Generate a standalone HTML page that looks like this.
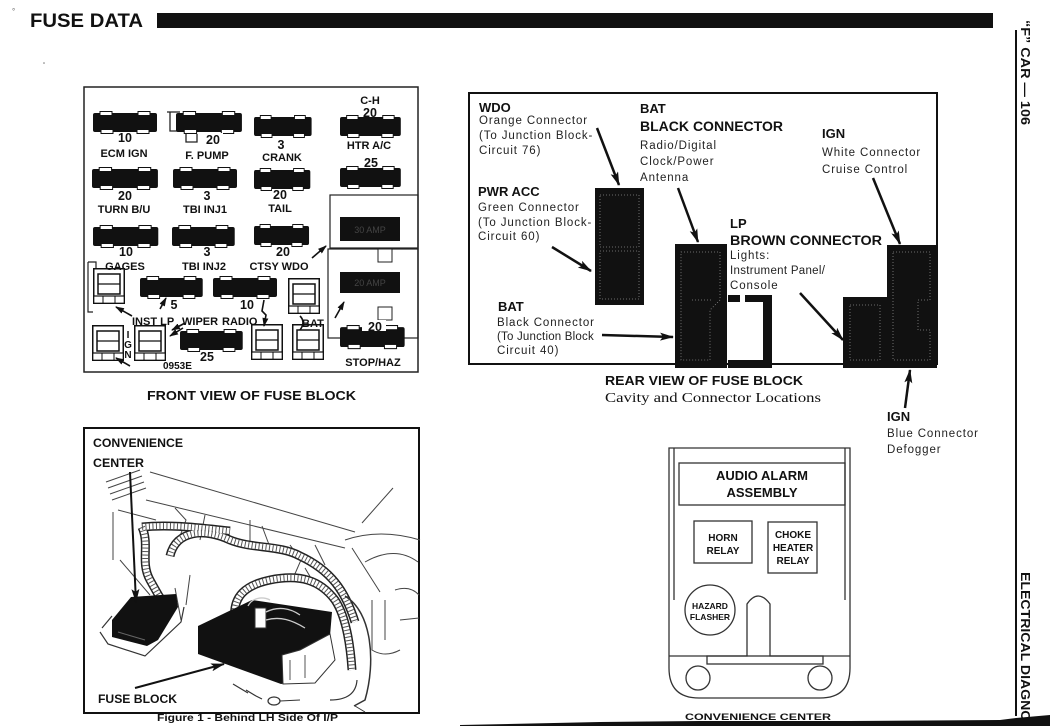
<!DOCTYPE html>
<html><head><meta charset="utf-8"><style>
html,body{margin:0;padding:0;background:#fff}
svg{display:block}
text{font-family:"Liberation Sans",Arial,sans-serif;fill:#111}
.b{font-weight:bold}
.r{font-size:11.5px;letter-spacing:0.9px;fill:#222}
.fl{font-size:11px;font-weight:bold;text-anchor:middle}
.fn{font-size:12.5px;font-weight:bold;text-anchor:middle}
</style></head><body>
<svg width="1050" height="726" viewBox="0 0 1050 726" xmlns="http://www.w3.org/2000/svg">
<defs>
<g id="fz">
<rect x="0" y="2" width="64" height="19" rx="2" fill="#111"/>
<rect x="7" y="0.5" width="12" height="4" fill="#fff" stroke="#111" stroke-width="1"/>
<rect x="45" y="0.5" width="12" height="4" fill="#fff" stroke="#111" stroke-width="1"/>
<rect x="8" y="18.5" width="12" height="4" fill="#fff" stroke="#111" stroke-width="1"/>
<rect x="44" y="18.5" width="12" height="4" fill="#fff" stroke="#111" stroke-width="1"/>
</g>
<g id="cn" fill="#fff" stroke="#111">
<rect x="0.75" y="0.75" width="30.5" height="34.5" stroke-width="1.5"/>
<rect x="5" y="6" width="22" height="20" stroke-width="1.5"/>
<line x1="5" y1="16" x2="27" y2="16" stroke-width="1.2"/>
<rect x="0.75" y="28" width="30.5" height="7.25" stroke-width="1.2"/>
<line x1="10" y1="28" x2="10" y2="35" stroke-width="1"/>
<line x1="22" y1="28" x2="22" y2="35" stroke-width="1"/>
</g>
<marker id="ah" viewBox="0 0 14 8" refX="13" refY="4" markerWidth="14" markerHeight="8" markerUnits="userSpaceOnUse" orient="auto">
<path d="M0,0 L14,4 L0,8 L3,4 Z" fill="#111"/>
</marker>
<marker id="as" viewBox="0 0 9 6" refX="8" refY="3" markerWidth="9" markerHeight="6" markerUnits="userSpaceOnUse" orient="auto">
<path d="M0,0 L9,3 L0,6 Z" fill="#111"/>
</marker>
</defs>

<!-- ============ HEADER ============ -->
<text x="12" y="14" style="font-size:8px;fill:#666">°</text>
<text x="30" y="27" class="b" style="font-size:19px" textLength="113" lengthAdjust="spacingAndGlyphs">FUSE DATA</text>
<rect x="157" y="13" width="836" height="15" fill="#111"/>
<circle cx="44" cy="63" r="0.8" fill="#777"/>

<!-- right edge -->
<line x1="1016" y1="30" x2="1016" y2="716" stroke="#111" stroke-width="2"/>
<g transform="translate(1021,20) rotate(90)">
<text x="0" y="0" class="b" style="font-size:13px" textLength="105" lengthAdjust="spacingAndGlyphs">“F” CAR — 106</text>
</g>
<g transform="translate(1021,572) rotate(90)">
<text x="0" y="0" class="b" style="font-size:13px" textLength="172" lengthAdjust="spacingAndGlyphs">ELECTRICAL DIAGNOSIS</text>
</g>

<!-- ============ FRONT VIEW OF FUSE BLOCK ============ -->
<rect x="84" y="87" width="334" height="285" fill="none" stroke="#222" stroke-width="1.5"/>
<rect x="330" y="195" width="88" height="53" fill="none" stroke="#222" stroke-width="1.2"/>
<rect x="328" y="249" width="90" height="89" fill="none" stroke="#222" stroke-width="1.2"/>
<rect x="378" y="249" width="14" height="13" fill="#fff" stroke="#222" stroke-width="1"/>
<rect x="378" y="307" width="14" height="13" fill="#fff" stroke="#222" stroke-width="1"/>
<rect x="340" y="217" width="60" height="24" fill="#111"/>
<text x="370" y="233" style="font-size:9px;fill:#444;text-anchor:middle">30 AMP</text>
<rect x="340" y="272" width="60" height="21" fill="#111"/>
<text x="370" y="286" style="font-size:9px;fill:#444;text-anchor:middle">20 AMP</text>

<path d="M167,112 H180 M170,112 V131 H186 V142 H197 V134" fill="none" stroke="#222" stroke-width="1.3"/>

<use href="#fz" transform="translate(93,111)"/>
<use href="#fz" transform="translate(176,111) scale(1.03,1)"/>
<use href="#fz" transform="translate(254,115) scale(0.9,1)"/>
<use href="#fz" transform="translate(340,115) scale(0.95,1)"/>
<use href="#fz" transform="translate(92,167) scale(1.03,1)"/>
<use href="#fz" transform="translate(173,167)"/>
<use href="#fz" transform="translate(254,168) scale(0.88,1)"/>
<use href="#fz" transform="translate(340,166) scale(0.95,1)"/>
<use href="#fz" transform="translate(93,225) scale(1.02,1)"/>
<use href="#fz" transform="translate(172,225) scale(0.98,1)"/>
<use href="#fz" transform="translate(254,224) scale(0.86,1)"/>
<use href="#fz" transform="translate(140,276) scale(0.98,1)"/>
<use href="#fz" transform="translate(213,276)"/>
<use href="#fz" transform="translate(180,329) scale(0.98,1)"/>
<use href="#fz" transform="translate(340,325) scale(1.01,1.05)"/>

<path d="M88,262 H96 V268" fill="none" stroke="#222" stroke-width="1.2"/>
<path d="M88,262 V312 H93" fill="none" stroke="#222" stroke-width="1.2"/>
<use href="#cn" transform="translate(93,268)"/>
<use href="#cn" transform="translate(92,325)"/>
<use href="#cn" transform="translate(134,325)"/>
<use href="#cn" transform="translate(288,278)"/>
<use href="#cn" transform="translate(251,324)"/>
<use href="#cn" transform="translate(292,324)"/>

<text x="125" y="142" class="fn">10</text>
<text x="124" y="157" class="fl">ECM IGN</text>
<rect x="203" y="133" width="20" height="11" fill="#fff"/>
<text x="213" y="144" class="fn">20</text>
<text x="207" y="159" class="fl">F. PUMP</text>
<text x="281" y="149" class="fn">3</text>
<text x="282" y="161" class="fl">CRANK</text>
<text x="370" y="104" class="fl">C-H</text>
<text x="370" y="117" class="fn">20</text>
<text x="369" y="149" class="fl">HTR A/C</text>
<text x="371" y="167" class="fn">25</text>
<text x="125" y="200" class="fn">20</text>
<text x="124" y="213" class="fl">TURN B/U</text>
<text x="207" y="200" class="fn">3</text>
<text x="205" y="213" class="fl">TBI INJ1</text>
<text x="280" y="199" class="fn">20</text>
<text x="280" y="212" class="fl">TAIL</text>
<text x="126" y="256" class="fn">10</text>
<text x="125" y="270" class="fl">GAGES</text>
<text x="207" y="256" class="fn">3</text>
<text x="204" y="270" class="fl">TBI INJ2</text>
<text x="283" y="256" class="fn">20</text>
<text x="279" y="270" class="fl">CTSY WDO</text>
<text x="174" y="309" class="fn">5</text>
<text x="247" y="309" class="fn">10</text>
<text x="132" y="325" class="b" style="font-size:11px">INST LP</text>
<text x="182" y="325" class="b" style="font-size:11px">WIPER</text>
<text x="222" y="325" class="b" style="font-size:11px">RADIO</text>
<text x="302" y="327" class="b" style="font-size:11px">BAT</text>
<text x="128" y="338" class="fl" style="font-size:10px">I</text>
<text x="128" y="348" class="fl" style="font-size:10px">G</text>
<text x="128" y="358" class="fl" style="font-size:10px">N</text>
<text x="207" y="361" class="fn">25</text>
<text x="163" y="369" class="b" style="font-size:10px">0953E</text>
<rect x="362" y="320" width="24" height="11" fill="#fff"/>
<text x="375" y="331" class="fn">20</text>
<text x="373" y="366" class="fl">STOP/HAZ</text>

<g fill="none" stroke="#111" stroke-width="1.6">
<path d="M132,316 L116,307" marker-end="url(#as)"/>
<path d="M160,309 L166,298" marker-end="url(#as)"/>
<path d="M130,366 L116,358" marker-end="url(#as)"/>
<path d="M183,328 L170,336" marker-end="url(#as)"/>
<path d="M185,323 L172,330" marker-end="url(#as)"/>
<path d="M264,300 L262,311 L266,315 L264,326" marker-end="url(#as)"/>
<path d="M312,258 L326,246" marker-end="url(#as)"/>
<path d="M335,318 L344,302" marker-end="url(#as)"/>
<path d="M300,316 Q306,322 300,330"/>
</g>

<text x="147" y="400" class="b" style="font-size:12.5px" textLength="209" lengthAdjust="spacingAndGlyphs">FRONT VIEW OF FUSE BLOCK</text>

<!-- ============ REAR VIEW OF FUSE BLOCK ============ -->
<rect x="469" y="93" width="468" height="271" fill="none" stroke="#111" stroke-width="2"/>
<rect x="595" y="188" width="49" height="117" fill="#111"/>
<rect x="675" y="244" width="52" height="124" fill="#111"/>
<path d="M728,295 H740 V302 H745 V295 H772 V368 H728 V360 H763 V302 H728 Z" fill="#111"/>
<path d="M843,297 H887 V245 H937 V368 H843 Z" fill="#111"/>
<g fill="none" stroke="#888" stroke-width="0.8" stroke-dasharray="1 2">
<rect x="600" y="195" width="39" height="52"/>
<rect x="600" y="251" width="39" height="48"/>
<path d="M681,252 H720 V300 L710,310 V360 H681 Z"/>
<path d="M692,300 H712"/>
<path d="M850,305 H880 V360 H850 Z"/>
<path d="M893,252 H930 V300 H918 V330 H930 V360 H893 Z"/>
</g>

<text x="479" y="112" class="b" style="font-size:13px">WDO</text>
<text x="479" y="124" class="r">Orange Connector</text>
<text x="479" y="139" class="r">(To Junction Block-</text>
<text x="479" y="154" class="r">Circuit 76)</text>
<text x="478" y="196" class="b" style="font-size:13px">PWR ACC</text>
<text x="478" y="211" class="r">Green Connector</text>
<text x="478" y="226" class="r">(To Junction Block-</text>
<text x="478" y="240" class="r">Circuit 60)</text>
<text x="498" y="311" class="b" style="font-size:13px">BAT</text>
<text x="497" y="326" class="r">Black Connector</text>
<text x="497" y="340" class="r" style="letter-spacing:0.2px">(To Junction Block</text>
<text x="497" y="354" class="r">Circuit 40)</text>

<text x="640" y="113" class="b" style="font-size:13px">BAT</text>
<text x="640" y="131" class="b" style="font-size:13.5px" textLength="143" lengthAdjust="spacingAndGlyphs">BLACK CONNECTOR</text>
<text x="640" y="149" class="r">Radio/Digital</text>
<text x="640" y="165" class="r">Clock/Power</text>
<text x="640" y="181" class="r">Antenna</text>

<text x="822" y="138" class="b" style="font-size:13px">IGN</text>
<text x="822" y="156" class="r">White Connector</text>
<text x="822" y="173" class="r">Cruise Control</text>

<text x="730" y="228" class="b" style="font-size:13px">LP</text>
<text x="730" y="245" class="b" style="font-size:13.5px" textLength="152" lengthAdjust="spacingAndGlyphs">BROWN CONNECTOR</text>
<text x="730" y="259" class="r">Lights:</text>
<text x="730" y="274" class="r" style="letter-spacing:0.3px">Instrument Panel/</text>
<text x="730" y="289" class="r">Console</text>

<g fill="none" stroke="#111" stroke-width="2.5">
<path d="M597,128 L619,185" marker-end="url(#ah)"/>
<path d="M552,247 L591,271" marker-end="url(#ah)"/>
<path d="M602,335 L673,337" marker-end="url(#ah)"/>
<path d="M678,188 L698,242" marker-end="url(#ah)"/>
<path d="M800,293 L843,340" marker-end="url(#ah)"/>
<path d="M873,178 L900,244" marker-end="url(#ah)"/>
<path d="M905,408 L910,370" marker-end="url(#ah)"/>
</g>

<text x="605" y="385" class="b" style="font-size:12.5px" textLength="198" lengthAdjust="spacingAndGlyphs">REAR VIEW OF FUSE BLOCK</text>
<text x="605" y="402" style="font-family:'Liberation Serif',serif;font-size:14px" textLength="216" lengthAdjust="spacingAndGlyphs">Cavity and Connector Locations</text>

<text x="887" y="421" class="b" style="font-size:13px">IGN</text>
<text x="887" y="437" class="r">Blue Connector</text>
<text x="887" y="453" class="r">Defogger</text>

<!-- ============ BEHIND LH SIDE OF I/P ============ -->
<rect x="84" y="428" width="335" height="285" fill="none" stroke="#111" stroke-width="2"/>
<g fill="none" stroke="#444" stroke-width="1">
<path d="M106,482 L140,470 M108,488 L142,476 M110,494 L144,482 M112,500 L146,488"/>
<path d="M150,472 L355,532"/>
<path d="M146,500 L345,548"/>
<path d="M118,510 L156,520 M113,512 L113,560"/>
<path d="M362,523 L393,488"/>
<path d="M345,540 Q380,528 420,540"/>
<path d="M352,548 L380,592 M365,562 Q395,545 418,562"/>
<path d="M372,600 L372,650 Q385,658 400,650 M385,600 L385,640"/>
<path d="M175,508 L186,520 L180,536 M205,515 L200,540 M250,520 L250,545 M262,526 L271,550"/>
<path d="M290,545 L301,560 L294,576 M315,545 L325,565"/>
<path d="M120,560 L150,595 M175,588 L181,620 M190,575 L186,605"/>
<path d="M395,590 Q410,585 419,595 M400,620 L419,618"/>
<path d="M320,590 L330,596 M305,568 L315,585"/>
</g>

<g fill="none">
<path id="h1" d="M142,527 C150,545 140,562 150,580 S160,598 165,604"/>
<path id="h2" d="M142,527 C170,524 200,528 230,531"/>
<path id="h3" d="M170,556 C176,530 205,528 230,540 C252,549 280,545 300,556 C330,570 345,590 355,622"/>
<path id="h4" d="M235,620 C232,596 246,585 270,580 C300,574 320,580 335,600 C345,615 350,640 352,670"/>
</g>
<g fill="none" stroke="#222" stroke-width="9"><use href="#h1"/><use href="#h2"/><use href="#h3"/><use href="#h4"/></g>
<g fill="none" stroke="#fff" stroke-width="6"><use href="#h1"/><use href="#h2"/><use href="#h3"/><use href="#h4"/></g>
<g fill="none" stroke="#555" stroke-width="6" stroke-dasharray="1 2.5"><use href="#h1"/><use href="#h2"/><use href="#h3"/><use href="#h4"/></g>
<path d="M345,596 C372,612 376,662 365,700 L354,706" fill="none" stroke="#333" stroke-width="1.5"/>
<path d="M330,700 C345,700 356,695 357,680" fill="none" stroke="#333" stroke-width="1.2"/>

<path d="M102,628 L112,616 M100,632 L108,644 L145,656 L181,622 L184,607" fill="none" stroke="#333" stroke-width="1.2"/>
<polygon points="112,620 131,597 176,594 178,607 158,640 147,646 112,637" fill="#111"/>
<path d="M118,632 L145,640" stroke="#666" stroke-width="1"/>

<polygon points="198,626 252,600 332,612 330,636 300,681 281,684 198,654" fill="#111"/>
<path d="M282,655 L300,650 L330,634 L335,660 L315,683 L283,684 Z" fill="#fff" stroke="#333" stroke-width="1"/>
<path d="M290,660 L290,680 M305,655 L305,678" stroke="#555" stroke-width="1"/>
<rect x="255" y="608" width="11" height="20" fill="#fff" stroke="#333" stroke-width="1"/>
<path d="M248,606 C252,598 262,596 270,600 M266,612 C278,606 290,608 300,615 M266,620 C280,616 292,620 305,628" fill="none" stroke="#ccc" stroke-width="1.3"/>
<path d="M233,684 L248,693 M246,690 L256,696 L262,699" fill="none" stroke="#333" stroke-width="1.2"/>
<ellipse cx="274" cy="701" rx="6" ry="4" fill="none" stroke="#333" stroke-width="1.2"/>
<path d="M280,701 L300,700 M355,706 L365,712" fill="none" stroke="#333" stroke-width="1"/>

<text x="93" y="447" class="b" style="font-size:12px" textLength="90" lengthAdjust="spacingAndGlyphs">CONVENIENCE</text>
<text x="93" y="467" class="b" style="font-size:12px" textLength="51" lengthAdjust="spacingAndGlyphs">CENTER</text>
<text x="98" y="703" class="b" style="font-size:12px" textLength="79" lengthAdjust="spacingAndGlyphs">FUSE BLOCK</text>
<g fill="none" stroke="#111" stroke-width="2">
<path d="M130,472 L136,602" marker-end="url(#ah)"/>
<path d="M135,688 L224,664" marker-end="url(#ah)"/>
</g>
<text x="157" y="721" class="b" style="font-size:10px" textLength="181" lengthAdjust="spacingAndGlyphs">Figure 1 - Behind LH Side Of I/P</text>

<!-- ============ CONVENIENCE CENTER ============ -->
<g fill="none" stroke="#333" stroke-width="1.3">
<path d="M669,448 H850 V668 Q850,698 820,698 H699 Q669,698 669,668 Z"/>
<path d="M674,448 V600 M845,448 V600"/>
<rect x="679" y="463" width="166" height="42"/>
<rect x="694" y="521" width="58" height="42"/>
<rect x="768" y="522" width="49" height="51"/>
<circle cx="710" cy="610" r="25"/>
<path d="M669,656 H747 V604 Q758,588 770,604 V656 H850"/>
<rect x="707" y="656" width="116" height="8"/>
<circle cx="698" cy="678" r="12"/>
<circle cx="820" cy="678" r="12"/>
</g>
<text x="762" y="480" class="b" style="font-size:13px;text-anchor:middle">AUDIO ALARM</text>
<text x="762" y="497" class="b" style="font-size:13px;text-anchor:middle">ASSEMBLY</text>
<text x="723" y="541" class="b" style="font-size:10px;text-anchor:middle">HORN</text>
<text x="723" y="554" class="b" style="font-size:10px;text-anchor:middle">RELAY</text>
<text x="793" y="538" class="b" style="font-size:10px;text-anchor:middle">CHOKE</text>
<text x="793" y="551" class="b" style="font-size:10px;text-anchor:middle">HEATER</text>
<text x="793" y="564" class="b" style="font-size:10px;text-anchor:middle">RELAY</text>
<text x="710" y="609" class="b" style="font-size:8.5px;text-anchor:middle">HAZARD</text>
<text x="710" y="620" class="b" style="font-size:8.5px;text-anchor:middle">FLASHER</text>

<!-- bottom scanned edge -->
<polygon points="460,725 600,722 700,721 850,721 1000,720 1016,718 1050,715 1050,726 460,726" fill="#111"/>
<rect x="684" y="712" width="148" height="9" fill="#fff"/>
<text x="685" y="720" class="b" style="font-size:9px" textLength="146" lengthAdjust="spacingAndGlyphs">CONVENIENCE CENTER</text>
</svg>
</body></html>
